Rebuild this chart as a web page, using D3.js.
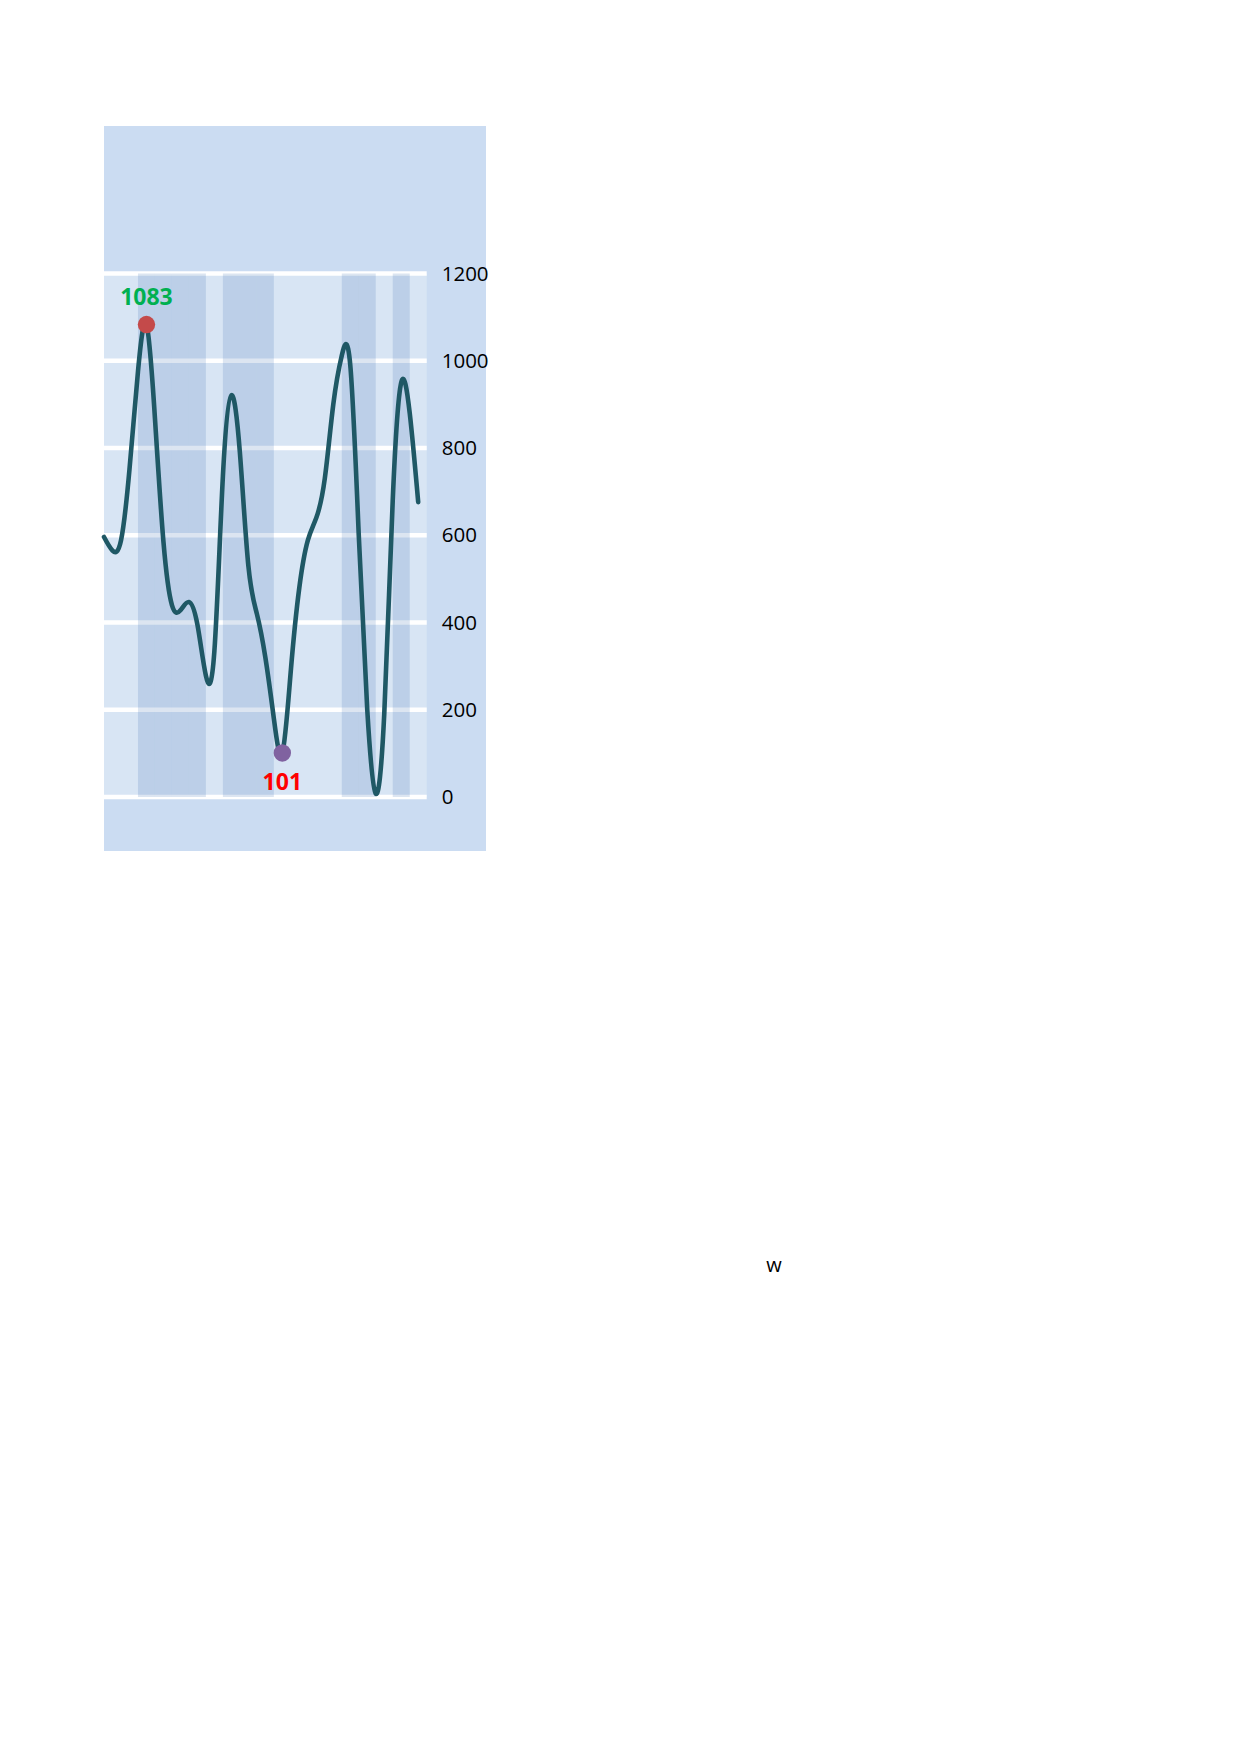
<!DOCTYPE html>
<html>
<head>
<meta charset="utf-8">
<script src="https://cdn.jsdelivr.net/npm/d3@7/dist/d3.min.js"></script>
<style>
  html, body { margin: 0; padding: 0; background: #ffffff; }
  svg { display: block; }
  text { font-family: "Open Sans", "Noto Sans", sans-serif; }
</style>
</head>
<body>
<svg id="chart" width="1240" height="1754"></svg>
<script>
// ---- data ----
const categories = ["c1","c2","c3","c4","c5","c6","c7","c8","c9","c10","c11","c12","c13","c14","c15","c16","c17","c18","c19"];
// value read at the centre of each category
const centerValues = [565, 751, 1083, 585, 428, 395, 335, 921, 530, 320, 101, 480, 640, 900, 990, 200, 190, 950, 676];
// value read at the left edge of each category
const edgeValues   = [596, 588, 975, 868, 440, 447, 278, 735, 790, 420, 180, 290, 588, 730, 1012, 600, 8, 680, 880];
// highlighted categories (shaded columns)
const shaded = ["c3","c4","c5","c6","c8","c9","c10","c15","c16","c18"];
const yTicks = [0, 200, 400, 600, 800, 1000, 1200];
const xTitle = "w";

// ---- layout ----
const svg = d3.select("#chart");
const panel = { x: 104, y: 126, w: 382, h: 725 };
const margin = { left: 104, top: 273.5 };
const width = 322.7, height = 523.5;

svg.append("rect").attr("width", 1240).attr("height", 1754).attr("fill", "#ffffff");
svg.append("rect")
  .attr("x", panel.x).attr("y", panel.y)
  .attr("width", panel.w).attr("height", panel.h)
  .attr("fill", "#cbdcf2");

const g = svg.append("g").attr("transform", `translate(${margin.left},${margin.top})`);

const x = d3.scaleBand().domain(categories).range([0, width]).padding(0);
const xPos = d3.scaleLinear().domain([0, categories.length]).range([0, width]);
const y = d3.scaleLinear().domain([0, 1200]).range([height, 0]);

// plot background
g.append("rect").attr("x", 0).attr("y", y(1200))
  .attr("width", width).attr("height", y(0) - y(1200))
  .attr("fill", "#d8e5f4");

// gridlines
g.selectAll("line.grid").data(yTicks).join("line")
  .attr("class", "grid")
  .attr("x1", 0).attr("x2", width)
  .attr("y1", d => y(d)).attr("y2", d => y(d))
  .attr("stroke", "#ffffff").attr("stroke-width", 4.5);

// shaded columns
g.selectAll("rect.band").data(shaded).join("rect")
  .attr("class", "band")
  .attr("x", d => x(d)).attr("width", x.bandwidth())
  .attr("y", y(1200)).attr("height", y(0) - y(1200))
  .attr("fill", "rgb(60,110,180)").attr("fill-opacity", 0.18);

// right axis
const axis = g.append("g")
  .attr("transform", `translate(${width},0)`)
  .call(d3.axisRight(y).tickValues(yTicks).tickFormat(d3.format("d")).tickSize(0).tickPadding(15));
axis.select(".domain").remove();
axis.selectAll("text")
  .attr("font-family", '"Open Sans", "Noto Sans", sans-serif')
  .attr("font-size", 20.5).attr("fill", "#000");

// line samples: edge then centre for each category
const samples = [];
categories.forEach((c, i) => {
  samples.push({ pos: i, value: edgeValues[i] });
  samples.push({ pos: i + 0.5, value: centerValues[i] });
});

const line = d3.line()
  .x(d => xPos(d.pos))
  .y(d => y(d.value))
  .curve(d3.curveNatural);

g.append("path").datum(samples)
  .attr("d", line)
  .attr("fill", "none")
  .attr("stroke", "#1f5865")
  .attr("stroke-width", 4.6)
  .attr("stroke-linecap", "round")
  .attr("stroke-linejoin", "round");

// max / min markers
const maxI = d3.maxIndex(centerValues);
const minI = d3.minIndex(centerValues);
const cx = i => x(categories[i]) + x.bandwidth() / 2;

g.append("circle").attr("cx", cx(maxI)).attr("cy", y(centerValues[maxI]))
  .attr("r", 8.7).attr("fill", "#c44a4a");
g.append("circle").attr("cx", cx(minI)).attr("cy", y(centerValues[minI]))
  .attr("r", 8.7).attr("fill", "#8062a0");

g.append("text").attr("x", cx(maxI)).attr("y", y(centerValues[maxI]) - 20)
  .attr("text-anchor", "middle").attr("font-size", 23).attr("font-weight", "bold")
  .attr("fill", "#00b050").text(centerValues[maxI]);
g.append("text").attr("x", cx(minI)).attr("y", y(centerValues[minI]) + 37)
  .attr("text-anchor", "middle").attr("font-size", 23).attr("font-weight", "bold")
  .attr("fill", "#ff0000").text(centerValues[minI]);

// x title
svg.append("text").attr("x", 774).attr("y", 1272)
  .attr("text-anchor", "middle").attr("font-size", 20).attr("fill", "#000")
  .text(xTitle);
</script>
</body>
</html>
